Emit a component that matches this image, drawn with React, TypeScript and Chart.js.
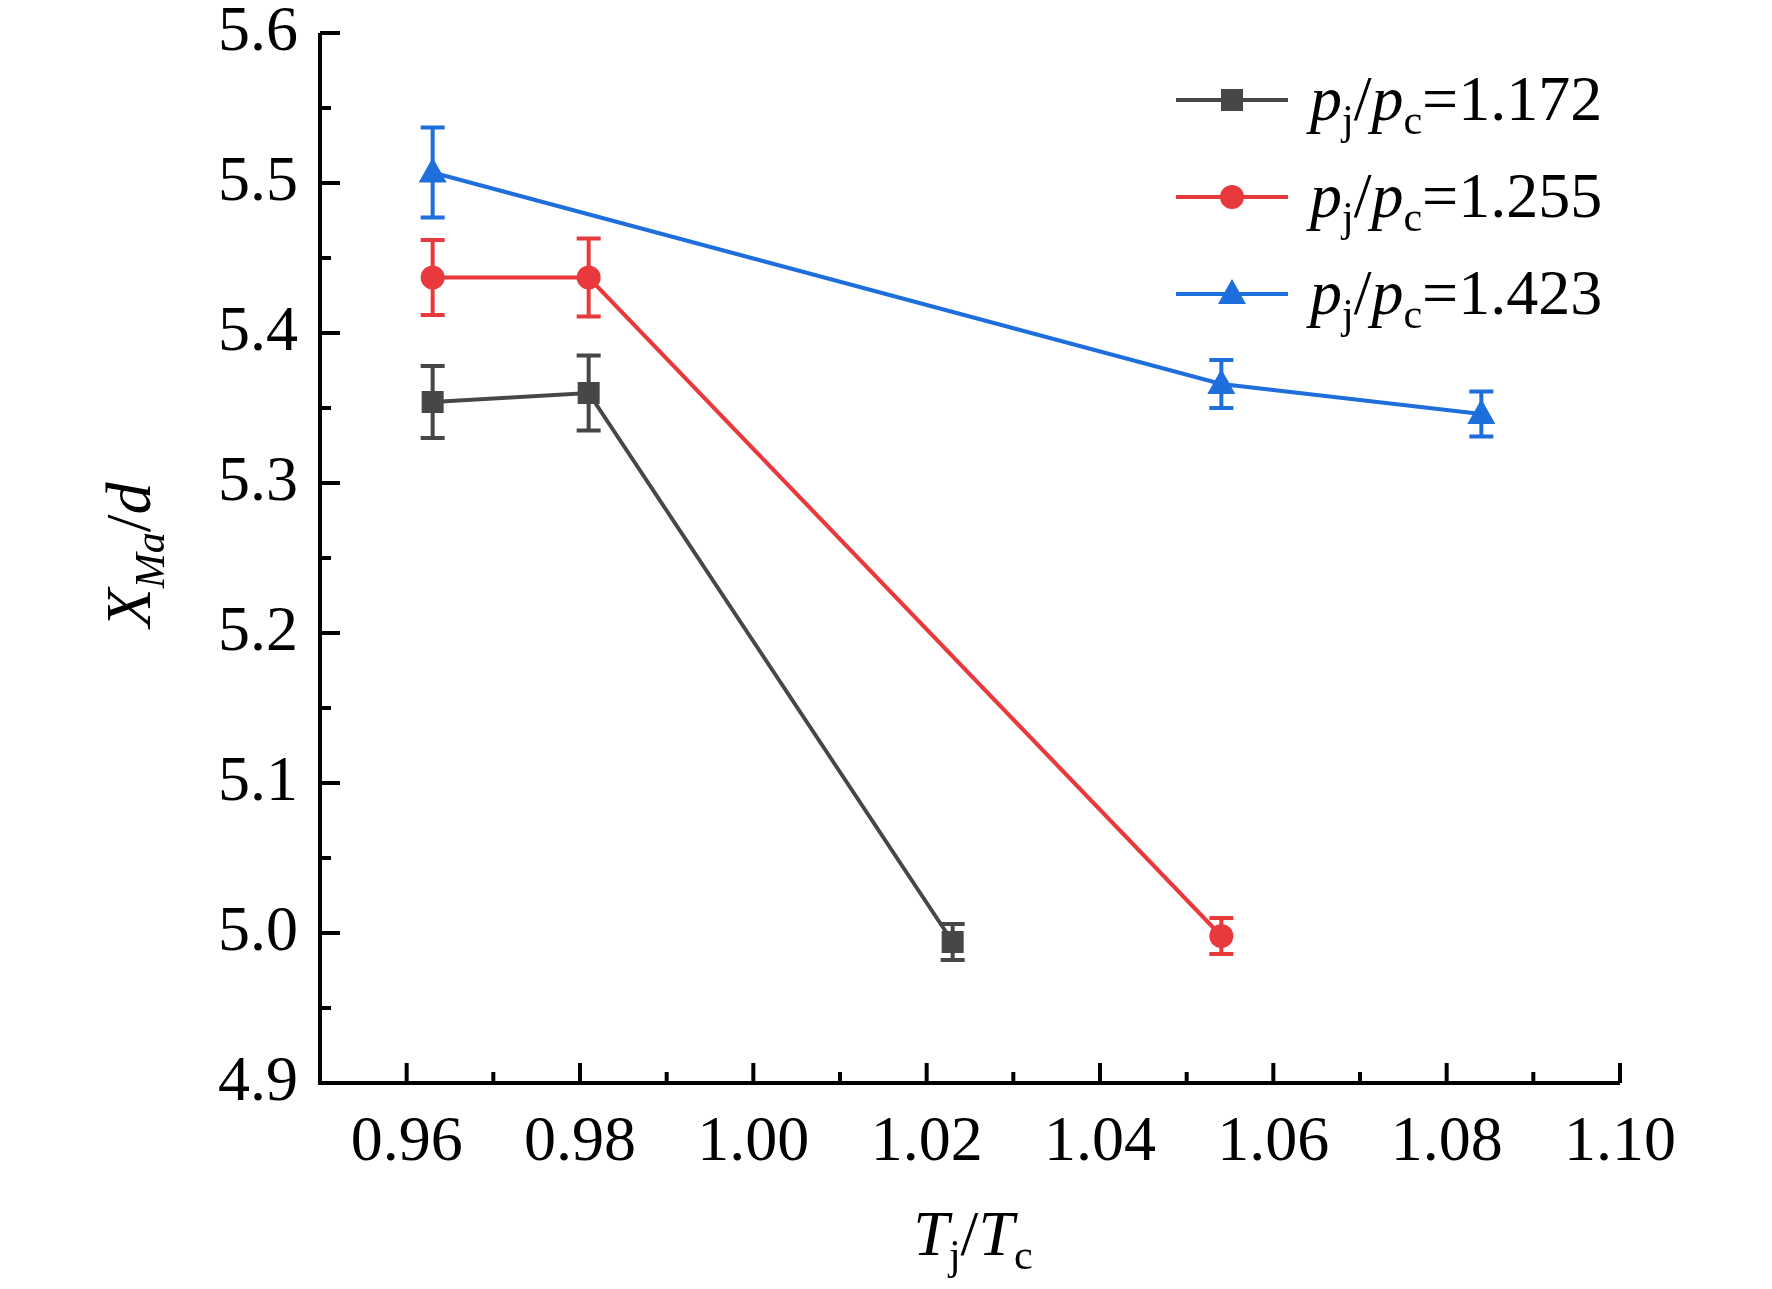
import React, { useEffect, useRef } from 'react';
import { Chart, registerables } from 'chart.js';

Chart.register(...registerables);

const xBlack = [0.963, 0.981, 1.023];
const yBlack = [5.354, 5.36, 4.994];
const eBlack = [0.024, 0.025, 0.012];
const xRed = [0.963, 0.981, 1.054];
const yRed = [5.437, 5.437, 4.998];
const eRed = [0.025, 0.026, 0.012];
const xBlue = [0.963, 1.054, 1.084];
const yBlue = [5.507, 5.366, 5.346];
const eBlue = [0.03, 0.016, 0.015];
const seriesNames = ['1.172', '1.255', '1.423'];
const colors = ['#474747', '#e8393c', '#1e6fdc'];
const xTicks = [0.96, 0.98, 1.0, 1.02, 1.04, 1.06, 1.08, 1.1];
const yTicks = [4.9, 5.0, 5.1, 5.2, 5.3, 5.4, 5.5, 5.6];

const errs = [eBlack, eRed, eBlue];
const SERIF = '"Times New Roman", "Liberation Serif", serif';

function drawMarker(ctx: CanvasRenderingContext2D, style: number, x: number, y: number, color: string) {
  ctx.fillStyle = color;
  ctx.beginPath();
  if (style === 0) ctx.rect(x - 11, y - 11, 22, 22);
  else if (style === 1) ctx.arc(x, y, 12, 0, Math.PI * 2);
  else {
    ctx.moveTo(x, y - 15);
    ctx.lineTo(x + 14, y + 10);
    ctx.lineTo(x - 14, y + 10);
    ctx.closePath();
  }
  ctx.fill();
}

// text with italic / subscript parts: [text, italic, sub]
function richText(ctx: CanvasRenderingContext2D, parts: [string, boolean, boolean][], x: number, y: number, size: number, align: 'left' | 'center') {
  const fontFor = (it: boolean, sub: boolean) => `${it ? 'italic ' : ''}${sub ? Math.round(size * 0.65) : size}px ${SERIF}`;
  let total = 0;
  parts.forEach(([t, it, sub]) => {
    ctx.font = fontFor(it, sub);
    total += ctx.measureText(t).width;
  });
  let cx = align === 'center' ? x - total / 2 : x;
  ctx.textAlign = 'left';
  ctx.textBaseline = 'alphabetic';
  parts.forEach(([t, it, sub]) => {
    ctx.font = fontFor(it, sub);
    ctx.fillText(t, cx, sub ? y + size * 0.22 : y);
    cx += ctx.measureText(t).width;
  });
}

const decorPlugin = {
  id: 'decor',
  afterDatasetsDraw(chart: any) {
    const ctx = chart.ctx as CanvasRenderingContext2D;
    const xs = chart.scales.x;
    const ys = chart.scales.y;
    const area = chart.chartArea;
    ctx.save();
    // error bars and markers
    chart.data.datasets.forEach((ds: any, i: number) => {
      ds.data.forEach((p: any, j: number) => {
        const px = xs.getPixelForValue(p.x);
        const top = ys.getPixelForValue(p.y + errs[i][j]);
        const bot = ys.getPixelForValue(p.y - errs[i][j]);
        ctx.strokeStyle = colors[i];
        ctx.lineWidth = 4;
        ctx.beginPath();
        ctx.moveTo(px, top);
        ctx.lineTo(px, bot);
        ctx.moveTo(px - 12, top);
        ctx.lineTo(px + 12, top);
        ctx.moveTo(px - 12, bot);
        ctx.lineTo(px + 12, bot);
        ctx.stroke();
        drawMarker(ctx, i, px, ys.getPixelForValue(p.y), colors[i]);
      });
    });
    // axes
    ctx.strokeStyle = '#000';
    ctx.lineWidth = 4;
    ctx.beginPath();
    ctx.moveTo(area.left, area.top);
    ctx.lineTo(area.left, area.bottom);
    ctx.lineTo(area.right, area.bottom);
    ctx.stroke();
    ctx.beginPath();
    for (let v = 0.95; v <= 1.1001; v += 0.01) {
      const px = xs.getPixelForValue(v);
      const major = Math.round(v * 100) % 2 === 0;
      ctx.moveTo(px, area.bottom);
      ctx.lineTo(px, area.bottom - (major ? 20 : 11));
    }
    for (let v = 4.9; v <= 5.6001; v += 0.05) {
      const py = ys.getPixelForValue(v);
      const major = Math.round(v * 100) % 10 === 0;
      ctx.moveTo(area.left, py);
      ctx.lineTo(area.left + (major ? 20 : 11), py);
    }
    ctx.stroke();
    ctx.fillStyle = '#000';
    ctx.font = `64px ${SERIF}`;
    ctx.textAlign = 'center';
    ctx.textBaseline = 'alphabetic';
    xTicks.forEach((v) => ctx.fillText(v.toFixed(2), xs.getPixelForValue(v), 1160));
    ctx.textAlign = 'right';
    ctx.textBaseline = 'middle';
    yTicks.forEach((v) => ctx.fillText(v.toFixed(1), 298, ys.getPixelForValue(v)));
    // axis titles
    richText(ctx, [['T', true, false], ['j', false, true], ['/', false, false], ['T', true, false], ['c', false, true]], 973, 1255, 64, 'center');
    ctx.save();
    ctx.translate(150, 555);
    ctx.rotate(-Math.PI / 2);
    richText(ctx, [['X', true, false], ['Ma', true, true], ['/', false, false], ['d', true, false]], 0, 0, 64, 'center');
    ctx.restore();
    // legend
    seriesNames.forEach((name, i) => {
      const ly = 100 + i * 97;
      ctx.strokeStyle = colors[i];
      ctx.lineWidth = 4;
      ctx.beginPath();
      ctx.moveTo(1176, ly);
      ctx.lineTo(1288, ly);
      ctx.stroke();
      drawMarker(ctx, i, 1232, ly, colors[i]);
      ctx.fillStyle = '#000';
      richText(ctx, [['p', true, false], ['j', false, true], ['/', false, false], ['p', true, false], ['c', false, true], ['=' + name, false, false]], 1310, ly + 20, 64, 'left');
    });
    ctx.restore();
  },
};

const App: React.FC = () => {
  const canvasRef = useRef<HTMLCanvasElement>(null);
  const chartRef = useRef<Chart | null>(null);

  useEffect(() => {
    document.body.style.margin = '0';
    if (chartRef.current) chartRef.current.destroy();
    const ctx = canvasRef.current?.getContext('2d');
    if (!ctx) return;
    const mk = (xs: number[], ys: number[]) => xs.map((x, i) => ({ x, y: ys[i] }));
    // @ts-ignore
    chartRef.current = new Chart(ctx, {
      type: 'line',
      data: {
        datasets: [
          { data: mk(xBlack, yBlack), borderColor: colors[0], borderWidth: 4, pointRadius: 0 },
          { data: mk(xRed, yRed), borderColor: colors[1], borderWidth: 4, pointRadius: 0 },
          { data: mk(xBlue, yBlue), borderColor: colors[2], borderWidth: 4, pointRadius: 0 },
        ],
      },
      options: {
        responsive: false,
        animation: false,
        layout: { padding: { left: 320, top: 33, right: 152, bottom: 206 } },
        plugins: { legend: { display: false }, tooltip: { enabled: false } },
        scales: {
          x: { type: 'linear', min: 0.95, max: 1.1, display: false },
          y: { type: 'linear', min: 4.9, max: 5.6, display: false },
        },
      },
      plugins: [decorPlugin],
    });
    return () => {
      chartRef.current?.destroy();
      chartRef.current = null;
    };
  }, []);

  return <canvas ref={canvasRef} width={1772} height={1289} style={{ display: 'block', background: '#fff' }} />;
};

export default App;
